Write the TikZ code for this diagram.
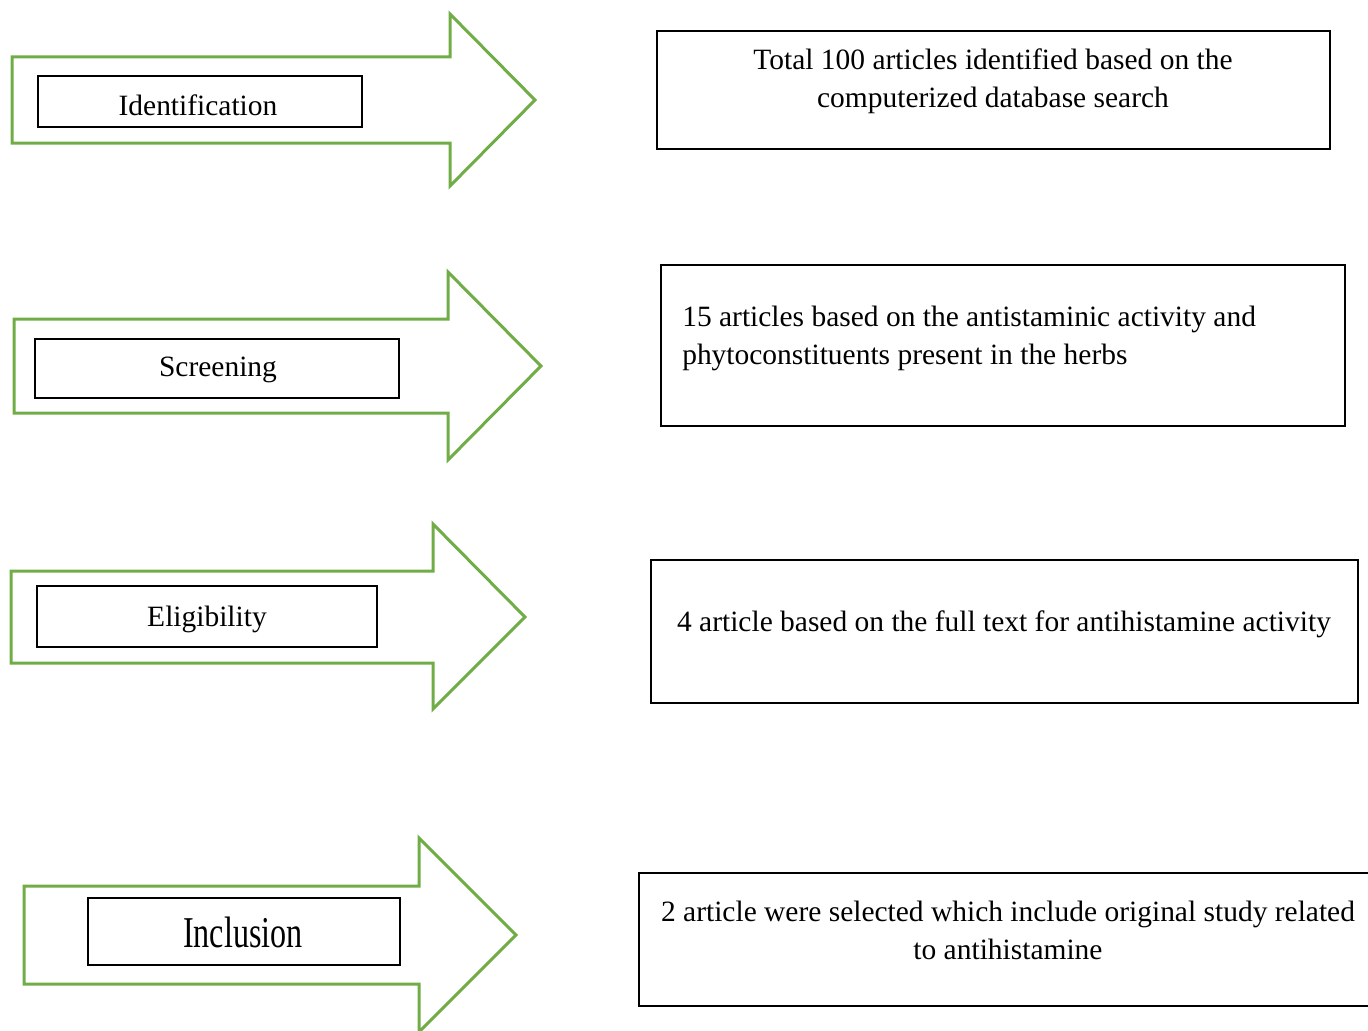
\documentclass[tikz,border=0pt]{standalone}
\usepackage{fontspec}
\setmainfont{Liberation Serif}
\newdimen\pxu \pxu=0.75pt
\definecolor{agreen}{RGB}{112,173,71}
\tikzset{
  garrow/.style={draw=agreen, line width=3\pxu, line join=miter},
  lbox/.style={draw=black, line width=2.5\pxu, rectangle, inner sep=0pt},
  txt/.style={font=\fontsize{22.1}{28.5}\selectfont, inner sep=0pt, align=center},
}
\begin{document}
\begin{tikzpicture}[x=0.75pt,y=-0.75pt]
\useasboundingbox (0,0) rectangle (1368,1031);
% green arrows
\draw[garrow] (12,57) -- (450,57) -- (450,14) -- (535,100) -- (450,186) -- (450,143) -- (12,143) -- cycle;
\draw[garrow] (14,319) -- (448,319) -- (448,272) -- (541,366) -- (448,460) -- (448,413) -- (14,413) -- cycle;
\draw[garrow] (11,571) -- (433,571) -- (433,524) -- (525,617) -- (433,709) -- (433,663) -- (11,663) -- cycle;
\draw[garrow] (24,886) -- (419,886) -- (419,838) -- (516,935) -- (419,1032) -- (419,984) -- (24,984) -- cycle;
% label boxes
\node[lbox, minimum width=324\pxu, minimum height=51\pxu] (b1) at (200,101.5) {};
\node[lbox, minimum width=364\pxu, minimum height=59\pxu] (b2) at (217,368.5) {};
\node[lbox, minimum width=340\pxu, minimum height=61\pxu] (b3) at (207,616.5) {};
\node[lbox, minimum width=312\pxu, minimum height=67\pxu] (b4) at (244,931.5) {};
\node[txt] (l1) at (198,105) {Identification};
\node[txt] (l2) at (218,370) {Screening};
\node[txt] (l3) at (207,619) {Eligibility};
\node[inner sep=0pt, font=\fontsize{33}{40}\selectfont] (l4) at (243,932) {\scalebox{0.73}[1]{Inclusion}};
% right boxes
\node[lbox, minimum width=673\pxu, minimum height=118\pxu] (r1) at (993.5,90) {};
\node[lbox, minimum width=684\pxu, minimum height=161\pxu] (r2) at (1003,345.5) {};
\node[lbox, minimum width=707\pxu, minimum height=143\pxu] (r3) at (1004.5,631.5) {};
\node[lbox, minimum width=731\pxu, minimum height=133\pxu] (r4) at (1004.5,939.5) {};
\node[txt] (t1) at (993,81) {Total 100 articles identified based on the\\computerized database search};
\node[txt, align=left, anchor=west] (t2) at (682,338) {15 articles based on the antistaminic activity and\\phytoconstituents present in the herbs};
\node[txt] (t3) at (1004,624.5) {4 article based on the full text for antihistamine activity};
\node[txt] (t4) at (1008,930.5) {2 article were selected which include original study related\\to antihistamine};
\end{tikzpicture}
\end{document}
